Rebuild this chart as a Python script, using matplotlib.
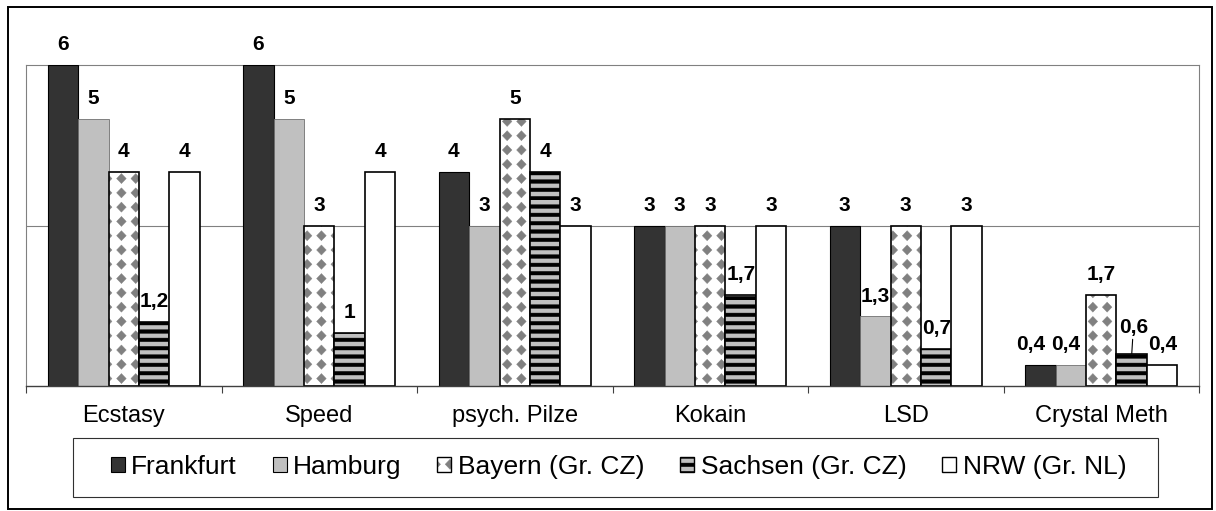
import numpy as np
import matplotlib
matplotlib.use('Agg')
import matplotlib.pyplot as plt
import matplotlib.hatch as mhatch
from matplotlib.path import Path
from matplotlib.patches import Patch, Rectangle
from matplotlib.legend_handler import HandlerTuple

categories = ['Ecstasy', 'Speed', 'psych. Pilze', 'Kokain', 'LSD', 'Crystal Meth']
series = ['Frankfurt', 'Hamburg', 'Bayern (Gr. CZ)', 'Sachsen (Gr. CZ)', 'NRW (Gr. NL)']
frankfurt = [6, 6, 4, 3, 3, 0.4]
hamburg = [5, 5, 3, 3, 1.3, 0.4]
bayern = [4, 3, 5, 3, 3, 1.7]
sachsen = [1.2, 1, 4, 1.7, 0.7, 0.6]
nrw = [4, 4, 3, 3, 3, 0.4]


# excel-like fill patterns: gray diamonds ('O') and thick horizontal stripes ('-')
class DiamondHatch(mhatch.HatchPatternBase):
  def __init__(self, hatch, density):
    self.n = 7 if 'O' in hatch else 0
    self.num_vertices = self.n * self.n * 5

  def set_vertices_and_codes(self, vertices, codes):
    hw, hh = 0.048, 0.05
    shape = np.array([[0, -hh], [hw, 0], [0, hh], [-hw, 0], [0, -hh]])
    k = 0
    for i in range(self.n):
      for j in range(self.n):
        c = np.array([(i + 0.5) / self.n, (j + 0.5) / self.n])
        vertices[k:k + 5] = shape + c
        codes[k:k + 5] = [Path.MOVETO, Path.LINETO, Path.LINETO, Path.LINETO, Path.CLOSEPOLY]
        k += 5


class StripeHatch(mhatch.HatchPatternBase):
  def __init__(self, hatch, density):
    self.n = 12 if '-' in hatch else 0
    self.num_vertices = self.n * 5

  def set_vertices_and_codes(self, vertices, codes):
    t = 0.036
    k = 0
    for j in range(self.n):
      y0 = j / self.n
      vertices[k:k + 5] = [[-0.02, y0], [1.02, y0], [1.02, y0 + t], [-0.02, y0 + t], [-0.02, y0]]
      codes[k:k + 5] = [Path.MOVETO, Path.LINETO, Path.LINETO, Path.LINETO, Path.CLOSEPOLY]
      k += 5


mhatch._hatch_types[:] = [StripeHatch if h is mhatch.HorizontalHatch else
                          DiamondHatch if h is mhatch.LargeCircles else h
                          for h in mhatch._hatch_types]

plt.rcParams['font.family'] = ['Liberation Sans', 'DejaVu Sans']
plt.rcParams['hatch.linewidth'] = 0.3

W, H = 1216, 511
fig = plt.figure(figsize=(W / 100, H / 100), dpi=100)
ax = fig.add_axes([26 / W, 1 - 386 / H, 1173 / W, 321 / H])

n = len(categories)
x = np.arange(n) + 0.5
bw = 0.156

values = [frankfurt, hamburg, bayern, sachsen, nrw]
handles = []

ax.bar(x - 2 * bw, frankfurt, bw, color='#333333', edgecolor='black', linewidth=0.8, zorder=3)
handles.append(Patch(facecolor='#333333', edgecolor='black', linewidth=0.8))

ax.bar(x - bw, hamburg, bw, color='#C0C0C0', edgecolor='#707070', linewidth=0.6, zorder=3)
handles.append(Patch(facecolor='#C0C0C0', edgecolor='black', linewidth=0.8))

with plt.rc_context({'hatch.color': '#808080'}):
  ax.bar(x, bayern, bw, color='white', hatch='O', linewidth=0, zorder=3)
  hp = Patch(facecolor='white', hatch='O', linewidth=0)
ax.bar(x, bayern, bw, fill=False, edgecolor='black', linewidth=1.2, zorder=4)
handles.append((hp, Patch(fill=False, edgecolor='black', linewidth=1.0)))

ax.bar(x + bw, sachsen, bw, color='#C0C0C0', edgecolor='black', hatch='-', linewidth=1.2, zorder=4)
handles.append(Patch(facecolor='#C0C0C0', edgecolor='black', hatch='-', linewidth=1.0))

ax.bar(x + 2 * bw, nrw, bw, color='white', edgecolor='black', linewidth=1.2, zorder=4)
handles.append(Patch(facecolor='white', edgecolor='black', linewidth=1.0))

# value labels (a few nudged like in the original chart)
nudge = {(0, 5): -7.0, (1, 5): -3.5}
for k, vals in enumerate(values):
  for i, v in enumerate(vals):
    txt = ('%g' % v).replace('.', ',')
    xp = x[i] + (k - 2) * bw
    if k == 3 and i == 5:
      ax.annotate(txt, (xp, v), xytext=(1.2, 12.5), textcoords='offset points',
                  ha='center', va='bottom', fontsize=15, fontweight='bold',
                  arrowprops=dict(arrowstyle='-', color='black', lw=0.8, shrinkA=0, shrinkB=0))
    else:
      ax.annotate(txt, (xp, v), xytext=(nudge.get((k, i), 0), 7.6), textcoords='offset points',
                  ha='center', va='bottom', fontsize=15, fontweight='bold')

ax.set_xlim(0, n)
ax.set_ylim(0, 6)
ax.set_yticks([])
ax.axhline(3, color='#808080', linewidth=0.8, zorder=1)
for s in ['left', 'top', 'right']:
  ax.spines[s].set_color('#808080')
  ax.spines[s].set_linewidth(0.8)
ax.spines['bottom'].set_color('#404040')
ax.spines['bottom'].set_linewidth(1.0)
ax.spines['bottom'].set_zorder(5)

ax.set_xticks(np.arange(n + 1))
ax.set_xticklabels([])
ax.tick_params(axis='x', which='major', length=5, width=0.8, color='#404040', direction='out')
ax.set_xticks(x, minor=True)
ax.set_xticklabels(categories, minor=True, fontsize=17)
ax.tick_params(axis='x', which='minor', length=0, pad=14)

# legend with its own frame
fig.patches.append(Rectangle((73 / W, 1 - 497 / H), 1085 / W, 59 / H, transform=fig.transFigure,
                             fill=False, edgecolor='#303030', linewidth=0.8))
fig.legend(handles, series, loc='center', bbox_to_anchor=(618.5 / W, 1 - 467 / H), ncol=5,
           frameon=False, fontsize=19, handlelength=0.53, handleheight=0.53,
           handletextpad=0.25, columnspacing=1.35, borderpad=0, borderaxespad=0,
           handler_map={tuple: HandlerTuple(ndivide=1)})

# outer chart border
fig.patches.append(Rectangle((8 / W, 1 - 509 / H), 1204 / W, 502 / H, transform=fig.transFigure,
                             fill=False, edgecolor='black', linewidth=1.4))

fig.savefig('out.png', dpi=100)
